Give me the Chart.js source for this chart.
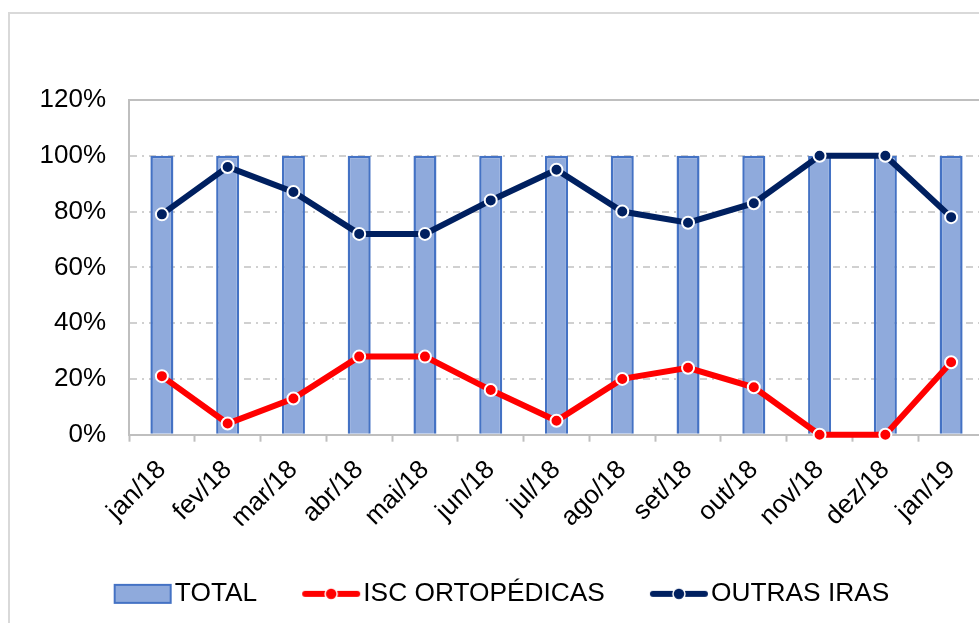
<!DOCTYPE html>
<html>
<head>
<meta charset="utf-8">
<script src="https://cdn.jsdelivr.net/npm/chart.js@4.4.0/dist/chart.umd.min.js"></script>
<style>
  html, body { margin: 0; padding: 0; background: #fff; overflow: hidden; }
  #moldura {
    position: absolute; left: 8px; top: 12px;
    border: 2px solid #d9d9d9;
  }
  canvas { display: block; }
</style>
</head>
<body>
<div id="moldura"><canvas id="grafico" width="990" height="615"></canvas></div>
<script>
const meses = ['jan/18', 'fev/18', 'mar/18', 'abr/18', 'mai/18', 'jun/18', 'jul/18',
  'ago/18', 'set/18', 'out/18', 'nov/18', 'dez/18', 'jan/19'];
const total = [1, 1, 1, 1, 1, 1, 1, 1, 1, 1, 1, 1, 1];
const iscOrtopedicas = [0.21, 0.04, 0.13, 0.28, 0.28, 0.16, 0.05, 0.20, 0.24, 0.17, 0, 0, 0.26];
const outrasIras = [0.79, 0.96, 0.87, 0.72, 0.72, 0.84, 0.95, 0.80, 0.76, 0.83, 1, 1, 0.78];
const ticksY = [0, 0.2, 0.4, 0.6, 0.8, 1.0, 1.2];

const FONTE = "'Liberation Sans', Arial, sans-serif";
const AZUL_BARRA = '#8faadc';
const BORDA_BARRA = '#4472c4';
const VERMELHO = '#ff0000';
const AZUL_ESCURO = '#002060';
const CINZA_EIXO = '#bfbfbf';

// icones da legenda (caixa e linha com marcador)
function iconeCaixa() {
  const c = document.createElement('canvas');
  c.width = 60; c.height = 22;
  const g = c.getContext('2d');
  g.fillStyle = AZUL_BARRA;
  g.strokeStyle = BORDA_BARRA;
  g.lineWidth = 2;
  g.fillRect(2, 2, 56, 18);
  g.strokeRect(2, 2, 56, 18);
  return c;
}
function iconeLinha(cor) {
  const c = document.createElement('canvas');
  c.width = 60; c.height = 22;
  const g = c.getContext('2d');
  g.strokeStyle = cor;
  g.lineWidth = 6;
  g.lineCap = 'round';
  g.beginPath(); g.moveTo(4, 11); g.lineTo(56, 11); g.stroke();
  g.fillStyle = cor;
  g.beginPath(); g.arc(30, 11, 6, 0, Math.PI * 2); g.fill();
  g.strokeStyle = '#fff'; g.lineWidth = 1.5; g.stroke();
  return c;
}
const icones = [iconeCaixa(), iconeLinha(VERMELHO), iconeLinha(AZUL_ESCURO)];

const ctx = document.getElementById('grafico').getContext('2d');
const grafico = new Chart(ctx, {
  type: 'bar',
  data: {
    labels: meses,
    datasets: [{
      type: 'bar',
      label: 'TOTAL',
      data: total,
      backgroundColor: AZUL_BARRA,
      borderColor: BORDA_BARRA,
      borderWidth: 2.5,
      barPercentage: 0.35,
      categoryPercentage: 1,
      order: 3
    }, {
      type: 'line',
      label: 'ISC ORTOPÉDICAS',
      data: iscOrtopedicas,
      borderColor: VERMELHO,
      backgroundColor: VERMELHO,
      borderWidth: 6,
      pointRadius: 6,
      pointBorderWidth: 2,
      pointBorderColor: '#fff',
      pointBackgroundColor: VERMELHO,
      tension: 0,
      clip: false,
      order: 2
    }, {
      type: 'line',
      label: 'OUTRAS IRAS',
      data: outrasIras,
      borderColor: AZUL_ESCURO,
      backgroundColor: AZUL_ESCURO,
      borderWidth: 6,
      pointRadius: 6,
      pointBorderWidth: 2,
      pointBorderColor: '#fff',
      pointBackgroundColor: AZUL_ESCURO,
      tension: 0,
      clip: false,
      order: 1
    }]
  },
  options: {
    responsive: false,
    animation: false,
    layout: { padding: { left: 19, right: 16, top: 86, bottom: 12 } },
    scales: {
      x: {
        type: 'category',
        position: 'bottom',
        grid: {
          offset: true,
          drawOnChartArea: false,
          drawTicks: true,
          tickLength: 7,
          tickWidth: 2,
          tickColor: CINZA_EIXO
        },
        border: { display: true, color: CINZA_EIXO, width: 2 },
        ticks: {
          minRotation: 45,
          maxRotation: 45,
          autoSkip: false,
          color: '#000',
          padding: 13,
          font: { family: FONTE, size: 26 }
        },
        afterFit(scale) { scale.height = 91; }
      },
      xTopo: {
        type: 'category',
        position: 'top',
        grid: { display: false, drawTicks: false },
        border: { display: true, color: CINZA_EIXO, width: 2 },
        ticks: { display: false }
      },
      y: {
        min: 0,
        max: 1.2,
        afterBuildTicks(scale) { scale.ticks = ticksY.map(v => ({ value: v })); },
        grid: {
          drawTicks: false,
          lineWidth: 2,
          color: c => (c.tick && (c.tick.value === 0 || c.tick.value > 1.1)) ? 'rgba(0,0,0,0)' : '#d0d0d0'
        },
        border: { display: true, color: CINZA_EIXO, width: 2, dash: [7, 5, 2, 5] },
        ticks: {
          color: '#000',
          padding: 23,
          font: { family: FONTE, size: 26 },
          callback: v => Math.round(v * 100) + '%'
        },
        afterFit(scale) { scale.width = 100; }
      }
    },
    plugins: {
      tooltip: { enabled: false },
      legend: {
        position: 'bottom',
        labels: {
          usePointStyle: true,
          pointStyleWidth: 38,
          boxHeight: 20,
          padding: 55,
          color: '#000',
          font: { family: FONTE, size: 26.3 },
          generateLabels(chart) {
            return chart.data.datasets.map((ds, i) => ({
              text: ds.label,
              pointStyle: icones[i],
              fillStyle: 'rgba(0,0,0,0)',
              strokeStyle: 'rgba(0,0,0,0)',
              lineWidth: 0,
              fontColor: '#000',
              hidden: false,
              datasetIndex: i
            }));
          }
        }
      }
    }
  }
});
</script>
</body>
</html>
